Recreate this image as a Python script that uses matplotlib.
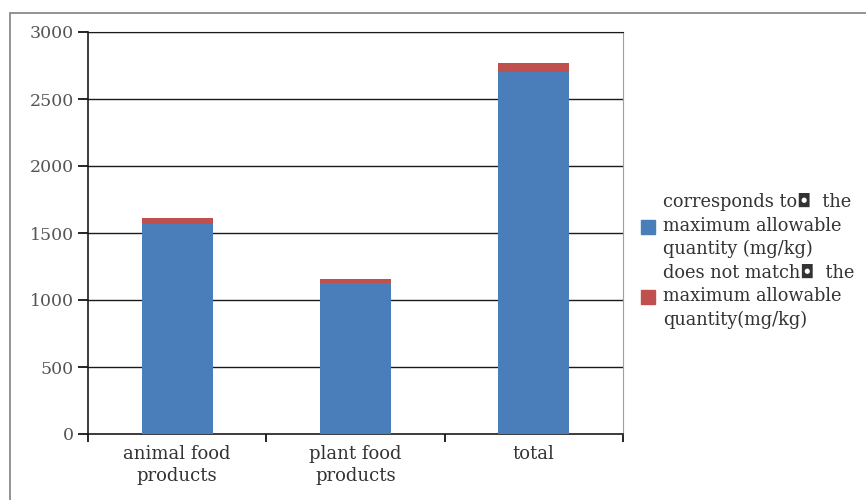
import matplotlib.pyplot as plt
from matplotlib.patches import Rectangle, Patch

# Values (mg/kg sample counts by category)
categories = ["animal food\nproducts", "plant food\nproducts", "total"]
matches = [1570, 1130, 2700]
not_matches = [45, 25, 70]
y_ticks = [0, 500, 1000, 1500, 2000, 2500, 3000]

blue = "#4a7ebb"
red = "#c0504d"
serif = "DejaVu Serif"

fig = plt.figure(figsize=(8.66, 5.0), dpi=100)
# outer frame around the chart
fig.patches.append(Rectangle((10 / 866, -0.05), 1.1, (500 - 12.5) / 500 + 0.05,
                             transform=fig.transFigure, fill=False,
                             edgecolor="#808080", linewidth=1.2))

ax = fig.add_axes([88 / 866, 66 / 500, 535 / 866, 402 / 500])
x = [0.5, 1.5, 2.5]
ax.bar(x, matches, width=0.4, color=blue, zorder=3)
ax.bar(x, not_matches, width=0.4, bottom=matches, color=red, zorder=3)

ax.set_xlim(0, 3)
ax.set_ylim(0, 3000)
ax.set_yticks(y_ticks)
ax.set_yticklabels([str(v) for v in y_ticks], family=serif, fontsize=12.5, color="#555555")
for v in y_ticks[1:]:
    ax.axhline(v, color="#1a1a1a", linewidth=1.0, zorder=1)

ax.set_xticks([0, 1, 2, 3])
ax.set_xticklabels([])
ax.set_xticks(x, minor=True)
ax.set_xticklabels(categories, minor=True, family=serif, fontsize=13, color="#333333",
                   linespacing=1.3)
ax.tick_params(axis="x", which="minor", length=0, pad=8)
ax.tick_params(axis="x", which="major", direction="out", length=6, width=1.2)
ax.tick_params(axis="y", direction="out", length=7, width=1.2, pad=3)

ax.spines["left"].set_color("#1a1a1a")
ax.spines["left"].set_linewidth(1.2)
ax.spines["bottom"].set_color("#1a1a1a")
ax.spines["bottom"].set_linewidth(1.2)
ax.spines["right"].set_color("#a0a0a0")
ax.spines["top"].set_color("#1a1a1a")

handles = [Patch(color=blue), Patch(color=red)]
labels = ["corresponds to\u25d8  the\nmaximum allowable\nquantity (mg/kg)",
          "does not match\u25d8  the\nmaximum allowable\nquantity(mg/kg)"]
ax.legend(handles, labels, loc="center left", bbox_to_anchor=(1.02, 0.43),
          frameon=False, prop={"family": serif, "size": 12.8}, handlelength=0.8,
          handleheight=0.8, handletextpad=0.45, labelspacing=0.3, borderaxespad=0)
for t in ax.get_legend().get_texts():
    t.set_color("#333333")
    t.set_linespacing(1.38)

fig.savefig("out.png", dpi=100)
